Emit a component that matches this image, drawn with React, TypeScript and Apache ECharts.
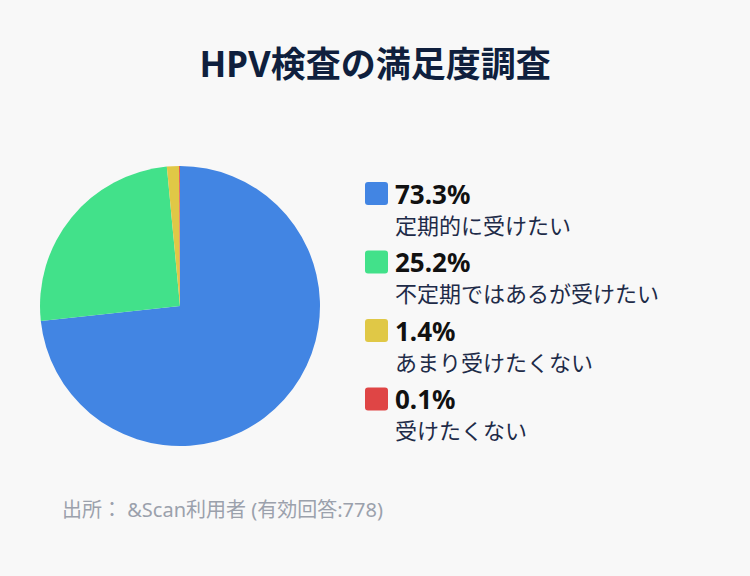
import React, { useEffect, useRef } from "react";
import * as echarts from "echarts";

const titleText = "HPV検査の満足度調査";
const sourceText = "出所： &Scan利用者 (有効回答:778)";
const categories = ["定期的に受けたい", "不定期ではあるが受けたい", "あまり受けたくない", "受けたくない"];
const values = [73.3, 25.2, 1.4, 0.1];
const colors = ["#4285E3", "#42E18A", "#E0C846", "#DF4545"];

const FONT = "'Noto Sans CJK JP', 'Noto Sans', sans-serif";
const FONT_LATIN = "'Noto Sans', 'Noto Sans CJK JP', sans-serif";

export default function App() {
  const ref = useRef<HTMLDivElement>(null);
  useEffect(() => {
    if (!ref.current) return;
    const chart = echarts.init(ref.current, null, { renderer: "svg" });
    const data = categories.map((name, i) => ({ name, value: values[i], itemStyle: { color: colors[i] } }));
    chart.setOption({
      animation: false,
      backgroundColor: "#F8F8F8",
      title: {
        text: titleText,
        left: "center",
        top: 41,
        textStyle: {
          fontFamily: FONT_LATIN,
          fontSize: 35,
          lineHeight: 34,
          fontWeight: "bold",
          color: "#0F1F3D",
        },
      },
      legend: [
        {
          orient: "vertical",
          left: 360,
          top: 175.5,
          itemWidth: 23,
          itemHeight: 23,
          itemGap: 42.5,
          icon: "path://M3,0h17a3,3 0 0 1 3,3v17a3,3 0 0 1 -3,3h-17a3,3 0 0 1 -3,-3v-17a3,3 0 0 1 3,-3z",
          selectedMode: false,
          data: categories,
          formatter: (name: string) => {
            const i = categories.indexOf(name);
            return `${values[i].toFixed(1)}%`;
          },
          textStyle: {
            fontFamily: FONT_LATIN,
            fontSize: 26,
            fontWeight: "bold",
            color: "#111111",
            lineHeight: 23,
            padding: [0, 0, 0, 2],
          },
        },
        {
          orient: "vertical",
          left: 360,
          top: 207.5,
          itemWidth: 25,
          itemHeight: 22,
          itemGap: 46.5,
          icon: "none",
          selectedMode: false,
          data: categories,
          textStyle: {
            fontFamily: FONT,
            fontSize: 22,
            color: "#1E2B48",
            lineHeight: 22,
          },
        },
      ],
      graphic: [
        {
          type: "text",
          left: 62,
          top: 499,
          style: { text: sourceText, fontFamily: FONT_LATIN, fontSize: 20, fill: "#9BA1AC" },
        },
      ],
      series: [
        {
          type: "pie",
          center: [180, 306],
          radius: 140,
          startAngle: 90,
          clockwise: true,
          label: { show: false },
          labelLine: { show: false },
          emphasis: { disabled: true },
          itemStyle: { borderWidth: 0 },
          data,
        },
      ],
    });
    return () => chart.dispose();
  }, []);
  return <div ref={ref} style={{ position: "fixed", left: 0, top: 0, width: 750, height: 576 }} />;
}
